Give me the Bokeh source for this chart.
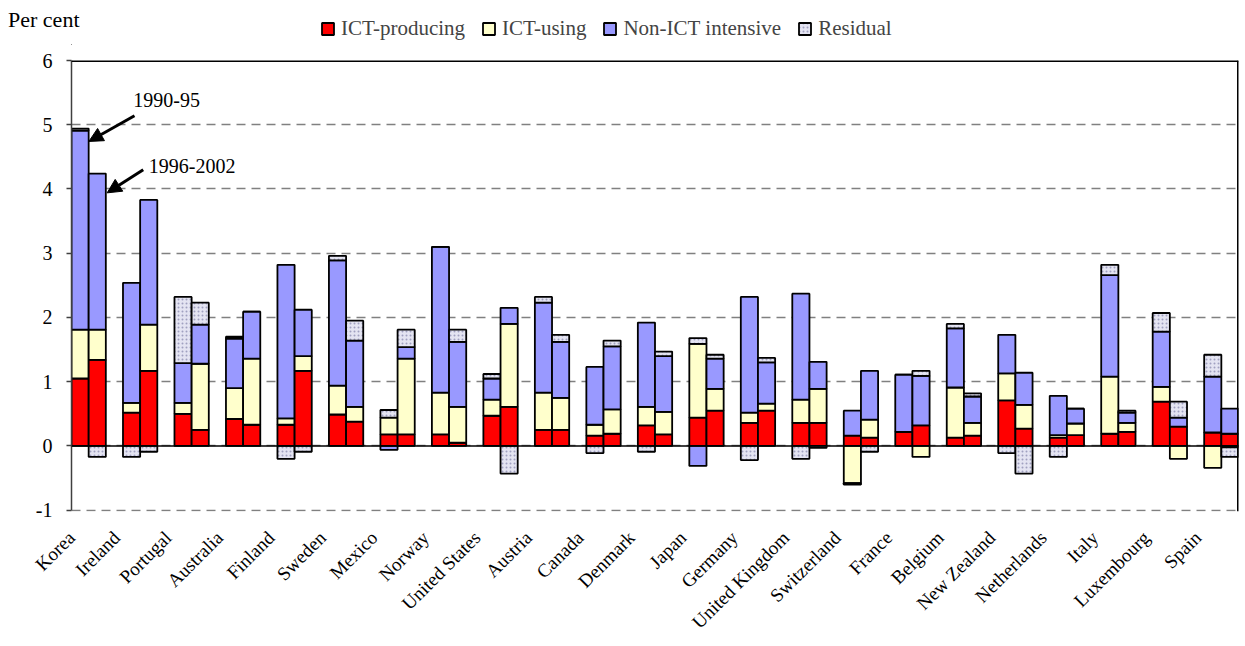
import math
from bokeh.plotting import figure
from bokeh.layouts import column
from bokeh.models import (FixedTicker, Span, Legend, LegendItem, Label, Arrow, NormalHead,
                          Range1d, CustomJSTickFormatter)
from bokeh.embed import file_html
from bokeh.resources import INLINE

countries = ["Korea", "Ireland", "Portugal", "Australia", "Finland", "Sweden", "Mexico",
             "Norway", "United States", "Austria", "Canada", "Denmark", "Japan", "Germany",
             "United Kingdom", "Switzerland", "France", "Belgium", "New Zealand",
             "Netherlands", "Italy", "Luxembourg", "Spain"]
periods = ["1990-95", "1996-2002"]
series_names = ["ICT-producing", "ICT-using", "Non-ICT intensive", "Residual"]
unit_note = "Per cent"

# 1990-95
ict_prod_9095 = [1.05, 0.52, 0.50, 0.42, 0.33, 0.49, 0.18, 0.18, 0.47, 0.25, 0.16, 0.32,
                 0.44, 0.36, 0.36, 0.16, 0.22, 0.13, 0.71, 0.13, 0.19, 0.69, 0.21]
ict_use_9095 = [0.76, 0.15, 0.17, 0.48, 0.10, 0.45, 0.26, 0.65, 0.25, 0.58, 0.17, 0.29,
                1.15, 0.16, 0.36, -0.58, 0.00, 0.78, 0.42, 0.04, 0.89, 0.23, -0.34]
non_ict_9095 = [3.10, 1.87, 0.62, 0.77, 2.39, 1.95, -0.06, 2.27, 0.33, 1.40, 0.90, 1.31,
                -0.31, 1.80, 1.65, 0.39, 0.89, 0.92, 0.60, 0.61, 1.58, 0.86, 0.87]
resid_9095 = [0.03, -0.17, 1.03, 0.03, -0.20, 0.07, 0.12, 0.00, 0.07, 0.09, -0.11, -0.09,
              0.09, -0.22, -0.20, -0.02, 0.00, 0.07, -0.11, -0.17, 0.16, 0.29, 0.34]

# 1996-2002
ict_prod_9602 = [1.34, 1.17, 0.25, 0.33, 1.17, 0.38, 0.18, 0.05, 0.61, 0.25, 0.19, 0.18,
                 0.55, 0.55, 0.36, 0.13, 0.32, 0.16, 0.27, 0.17, 0.22, 0.30, 0.19]
ict_use_9602 = [0.47, 0.72, 1.03, 1.03, 0.23, 0.23, 1.18, 0.56, 1.29, 0.50, 0.38, 0.35,
                0.34, 0.11, 0.53, 0.28, -0.17, 0.20, 0.37, 0.18, 0.14, -0.20, -0.02]
non_ict_9602 = [2.43, 1.94, 0.61, 0.73, 0.72, 1.03, 0.18, 1.01, 0.25, 0.87, 0.98, 0.87,
                0.47, 0.64, 0.42, 0.76, 0.77, 0.41, 0.50, 0.23, 0.16, 0.14, 0.39]
resid_9602 = [-0.17, -0.09, 0.34, 0.00, -0.09, 0.31, 0.27, 0.19, -0.43, 0.11, 0.09, 0.07,
              0.06, 0.07, -0.03, -0.09, 0.08, 0.05, -0.43, 0.00, 0.03, 0.25, -0.15]

y_ticks = [-1, 0, 1, 2, 3, 4, 5, 6]

period_data = {
    "1990-95": [ict_prod_9095, ict_use_9095, non_ict_9095, resid_9095],
    "1996-2002": [ict_prod_9602, ict_use_9602, non_ict_9602, resid_9602],
}

FONT = "Liberation Serif"
COLORS = ["#FF0000", "#FFFFCC", "#9999FF", "#E4E4F2"]
n = len(countries)
OFF = 0.87   # bar offset from the category label tick
TOP_H = 45
W = 1245


def bar_style(k):
    kw = dict(fill_color=COLORS[k], line_color="black", line_width=1.8)
    if k == 3:
        kw.update(hatch_pattern="dot", hatch_color="#A0A0C0", hatch_scale=4, hatch_weight=1)
    return kw


# ---------- header strip: unit note (as axis label) + legend ----------
top = figure(width=W, height=TOP_H, output_backend="svg", toolbar_location=None,
             x_axis_location=None, y_axis_location="left",
             x_range=Range1d(0, 1), y_range=Range1d(0, TOP_H),
             min_border_left=0, min_border_right=0, min_border_top=0, min_border_bottom=0)
top.outline_line_color = None
top.grid.visible = False
note_y = TOP_H - 19
top.yaxis.ticker = FixedTicker(ticks=[note_y])
top.yaxis.major_label_overrides = {note_y: unit_note}
top.yaxis.axis_line_color = None
top.yaxis.major_tick_line_color = None
top.yaxis.minor_tick_line_color = None
top.yaxis.major_tick_out = 0
top.yaxis.major_tick_in = 0
top.yaxis.major_label_standoff = -8
top.yaxis.major_label_text_font = FONT
top.yaxis.major_label_text_font_size = "22px"
top.yaxis.major_label_text_color = "black"

# legend key proxies (zero-height, outside the visible strip)
key_renderers = [top.vbar(x=[-1], bottom=[0], top=[0], width=0.1, **bar_style(k))
                 for k in range(4)]
legend = Legend(items=[LegendItem(label=series_names[k], renderers=[key_renderers[k]])
                       for k in range(4)],
                location=(249, 4), orientation="horizontal", padding=0, margin=0,
                glyph_width=15, glyph_height=15, label_standoff=6, spacing=16,
                label_text_font=FONT, label_text_font_size="21px",
                border_line_color=None, background_fill_alpha=0)
top.add_layout(legend)

# ---------- main chart ----------
x_left = OFF - 0.5
x_right = 3 * (n - 1) + 1 + OFF + 0.5      # frame ends right after the last bar
p = figure(width=W, height=646 - TOP_H, output_backend="svg", toolbar_location=None,
           x_range=Range1d(x_left, x_right), y_range=Range1d(-1.02, 6),
           min_border_left=71, min_border_right=7, min_border_top=60 - TOP_H,
           min_border_bottom=135)
p.outline_line_color = None
p.background_fill_color = "white"
p.border_fill_color = "white"
p.xgrid.visible = False

# x axis: country labels only
p.xaxis.ticker = FixedTicker(ticks=[max(3 * i, x_left) for i in range(n)])
p.xaxis.formatter = CustomJSTickFormatter(args=dict(names=countries),
                                          code="return names[Math.round(tick / 3)];")
p.xaxis.major_label_orientation = math.pi / 4
p.xaxis.axis_line_color = None
p.xaxis.major_tick_line_color = None
p.xaxis.minor_tick_line_color = None
p.xaxis.major_tick_out = 0
p.xaxis.major_tick_in = 0
p.xaxis.major_label_standoff = 23
p.xaxis.major_label_text_font = FONT
p.xaxis.major_label_text_font_size = "19px"
p.xaxis.major_label_text_color = "black"

# y axis
p.yaxis.ticker = FixedTicker(ticks=y_ticks)
p.yaxis.bounds = (y_ticks[0], y_ticks[-1])
p.yaxis.major_label_overrides = {t: str(t) for t in y_ticks}
p.yaxis.axis_line_color = "#404040"
p.yaxis.axis_line_width = 1.5
p.yaxis.major_tick_line_color = "#404040"
p.yaxis.major_tick_line_width = 1.5
p.yaxis.major_tick_out = 5
p.yaxis.major_tick_in = 0
p.yaxis.minor_tick_line_color = None
p.yaxis.major_label_standoff = 14
p.yaxis.major_label_text_font = FONT
p.yaxis.major_label_text_font_size = "20px"
p.yaxis.major_label_text_color = "black"

p.ygrid.ticker = FixedTicker(ticks=y_ticks)
p.ygrid.grid_line_color = "#808080"
p.ygrid.grid_line_width = 1.5
p.ygrid.grid_line_dash = "9 6"

# stacked bars (positive values stack up, negative stack down)
for j, per in enumerate(periods):
    xs = [3 * i + j + OFF for i in range(n)]
    pos = [0.0] * n
    neg = [0.0] * n
    for k, vals in enumerate(period_data[per]):
        bottoms, tops = [], []
        for i, v in enumerate(vals):
            if v >= 0:
                bottoms.append(pos[i]); tops.append(pos[i] + v); pos[i] += v
            else:
                bottoms.append(neg[i]); tops.append(neg[i] + v); neg[i] += v
        p.vbar(x=xs, bottom=bottoms, top=tops, width=1.0, **bar_style(k))

# frame lines
p.add_layout(Span(location=0, dimension="width", line_color="black", line_width=1.5))
p.add_layout(Span(location=y_ticks[-1], dimension="width", line_color="black", line_width=3))
p.add_layout(Span(location=x_right, dimension="height", line_color="black", line_width=3))

# period annotations with arrows (relative to the Korea bars)
p.add_layout(Arrow(end=NormalHead(size=14, fill_color="black", line_color="black"),
                   x_start=OFF + 3.17, y_start=5.14, x_end=OFF + 0.51, y_end=4.74,
                   line_width=3, line_color="black"))
p.add_layout(Arrow(end=NormalHead(size=14, fill_color="black", line_color="black"),
                   x_start=OFF + 3.68, y_start=4.30, x_end=OFF + 1.58, y_end=3.94,
                   line_width=3, line_color="black"))
p.add_layout(Label(x=OFF + 3.10, y=5.39, text=periods[0], text_font=FONT,
                   text_font_size="20px", text_align="left", text_baseline="middle",
                   text_color="black"))
p.add_layout(Label(x=OFF + 4.00, y=4.36, text=periods[1], text_font=FONT,
                   text_font_size="20px", text_align="left", text_baseline="middle",
                   text_color="black"))

layout = column(top, p, spacing=0)
open("out.html", "w").write(file_html(layout, INLINE))
